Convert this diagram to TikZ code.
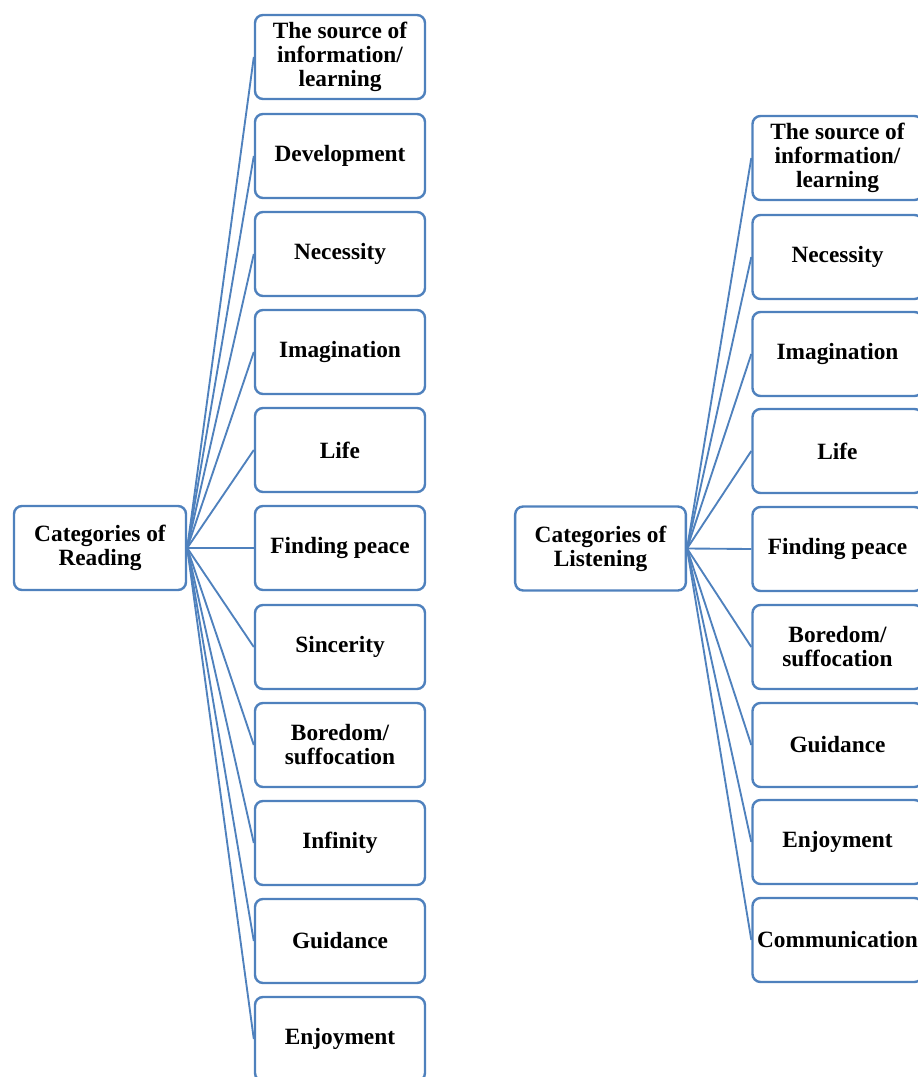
\documentclass[tikz,border=0pt]{standalone}
\usepackage{fontspec}
\setmainfont{Liberation Serif}
\usetikzlibrary{positioning}
\definecolor{boxblue}{RGB}{79,129,189}

\begin{document}
\begin{tikzpicture}[x=0.75pt,y=-0.75pt,
	catbox/.style={draw=boxblue,line width=1.8pt,rounded corners=6pt,fill=white,
		minimum width=127.5pt,minimum height=63pt,align=center,inner sep=2pt,
		font=\fontsize{17.5}{18}\selectfont\bfseries},
	rootbox/.style={catbox,minimum width=129pt},
	link/.style={draw=boxblue,line width=1.4pt}]
	\useasboundingbox (0,0) rectangle (917,1077);
	%TREE 1 ROOT
	\node [rootbox] (R1) at (100,548) {Categories of\\Reading};
	  %LEVEL 2
	  \node [catbox] (R1a) at (340,57) {The source of\\information/\\learning};
	  \node [catbox] (R1b) at (340,156) {Development};
	  \node [catbox] (R1c) at (340,254) {Necessity};
	  \node [catbox] (R1d) at (340,352) {Imagination};
	  \node [catbox] (R1e) at (340,450) {Life};
	  \node [catbox] (R1f) at (340,548) {Finding peace};
	  \node [catbox] (R1g) at (340,647) {Sincerity};
	  \node [catbox] (R1h) at (340,745) {Boredom/\\suffocation};
	  \node [catbox] (R1i) at (340,843) {Infinity};
	  \node [catbox] (R1j) at (340,941) {Guidance};
	  \node [catbox] (R1k) at (340,1039) {Enjoyment};
	  %LINKS
	  \draw[link] (R1.east) -- (R1a.west);
	  \draw[link] (R1.east) -- (R1b.west);
	  \draw[link] (R1.east) -- (R1c.west);
	  \draw[link] (R1.east) -- (R1d.west);
	  \draw[link] (R1.east) -- (R1e.west);
	  \draw[link] (R1.east) -- (R1f.west);
	  \draw[link] (R1.east) -- (R1g.west);
	  \draw[link] (R1.east) -- (R1h.west);
	  \draw[link] (R1.east) -- (R1i.west);
	  \draw[link] (R1.east) -- (R1j.west);
	  \draw[link] (R1.east) -- (R1k.west);

	%TREE 2 ROOT
	\node [rootbox,minimum width=128pt] (R2) at (600.5,548.5) {Categories of\\Listening};
	  %LEVEL 2
	  \node [catbox] (R2a) at (837.5,158) {The source of\\information/\\learning};
	  \node [catbox] (R2b) at (837.5,257) {Necessity};
	  \node [catbox] (R2c) at (837.5,354) {Imagination};
	  \node [catbox] (R2d) at (837.5,451) {Life};
	  \node [catbox] (R2e) at (837.5,549) {Finding peace};
	  \node [catbox] (R2f) at (837.5,647) {Boredom/\\suffocation};
	  \node [catbox] (R2g) at (837.5,745) {Guidance};
	  \node [catbox] (R2h) at (837.5,842) {Enjoyment};
	  \node [catbox] (R2i) at (837.5,940) {Communication};
	  %LINKS
	  \draw[link] (R2.east) -- (R2a.west);
	  \draw[link] (R2.east) -- (R2b.west);
	  \draw[link] (R2.east) -- (R2c.west);
	  \draw[link] (R2.east) -- (R2d.west);
	  \draw[link] (R2.east) -- (R2e.west);
	  \draw[link] (R2.east) -- (R2f.west);
	  \draw[link] (R2.east) -- (R2g.west);
	  \draw[link] (R2.east) -- (R2h.west);
	  \draw[link] (R2.east) -- (R2i.west);
\end{tikzpicture}
\end{document}
